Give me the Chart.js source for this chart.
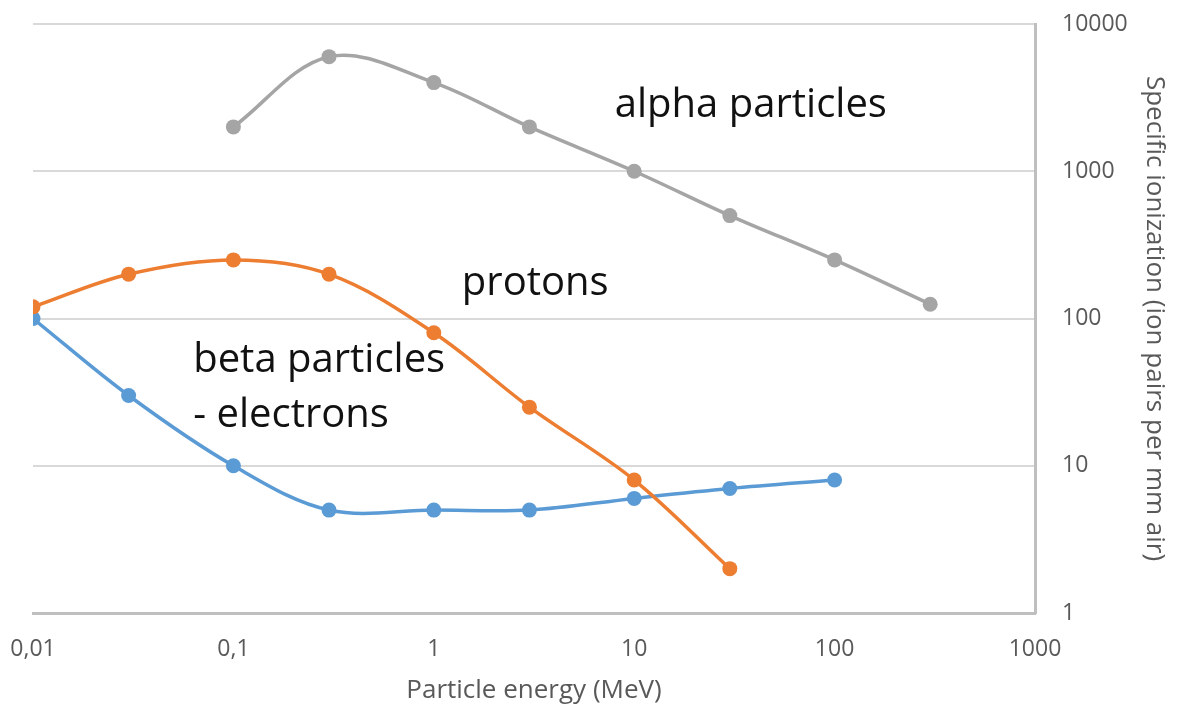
<!DOCTYPE html>
<html>
<head>
<meta charset="utf-8">
<script src="https://cdn.jsdelivr.net/npm/chart.js@4.4.1/dist/chart.umd.min.js"></script>
<style>
	html, body { margin: 0; padding: 0; background: #fff; }
	#wrap { width: 1181px; height: 706px; position: relative; }
</style>
</head>
<body>
<div id="wrap"><canvas id="chart" width="1181" height="706"></canvas></div>
<script>
(function () {
	'use strict';

	// Particle energy (MeV) per point, and ionization values.
	var ENERGY_ALPHA = [0.1, 0.3, 1, 3, 10, 30, 100, 300];
	var ALPHA = [2000, 6000, 4000, 2000, 1000, 500, 250, 125];

	var ENERGY_PROTON = [0.01, 0.03, 0.1, 0.3, 1, 3, 10, 30];
	var PROTONS = [120, 200, 250, 200, 80, 25, 8, 2];

	var ENERGY_BETA = [0.01, 0.03, 0.1, 0.3, 1, 3, 10, 30, 100];
	var BETA = [100, 30, 10, 5, 5, 5, 6, 7, 8];

	var X_TICKS = [0.01, 0.1, 1, 10, 100, 1000];
	var Y_TICKS = [1, 10, 100, 1000, 10000];

	// Curve names written inside the plot, anchored in data space.
	var LABEL_TEXT = ['alpha particles', 'protons', 'beta particles', '- electrons'];
	var LABEL_X = [8, 1.38, 0.063, 0.063];
	var LABEL_Y = [2800, 173, 52, 22];

	var COLORS = { alpha: '#A5A5A5', proton: '#ED7D31', beta: '#5B9BD5' };
	var FONT = '"Open Sans", "Liberation Sans", sans-serif';

	function pairs(xs, ys) {
		return xs.map(function (x, i) { return { x: x, y: ys[i] }; });
	}

	function series(label, xs, ys, color) {
		return {
			label: label,
			data: pairs(xs, ys),
			borderColor: color,
			backgroundColor: color,
			borderWidth: 3.5,
			pointRadius: 7.5,
			pointHoverRadius: 7.5,
			pointBorderWidth: 0,
			tension: 0.35,
			fill: false
		};
	}

	var curveLabels = {
		id: 'curveLabels',
		afterDatasetsDraw: function (chart) {
			var ctx = chart.ctx;
			var xs = chart.scales.x, ys = chart.scales.y;
			ctx.save();
			ctx.fillStyle = '#111';
			ctx.font = '40px ' + FONT;
			ctx.textAlign = 'left';
			ctx.textBaseline = 'middle';
			LABEL_TEXT.forEach(function (t, i) {
				ctx.fillText(t, xs.getPixelForValue(LABEL_X[i]), ys.getPixelForValue(LABEL_Y[i]));
			});
			ctx.restore();
		}
	};

	function fmt(v) {
		return String(v).replace('.', ',');
	}

	new Chart(document.getElementById('chart'), {
		type: 'line',
		data: {
			datasets: [
				series('alpha particles', ENERGY_ALPHA, ALPHA, COLORS.alpha),
				series('protons', ENERGY_PROTON, PROTONS, COLORS.proton),
				series('beta particles - electrons', ENERGY_BETA, BETA, COLORS.beta)
			]
		},
		options: {
			responsive: false,
			animation: false,
			layout: { padding: { left: 33, top: 24, right: 0, bottom: 0 } },
			plugins: { legend: { display: false }, tooltip: { enabled: false } },
			scales: {
				x: {
					type: 'logarithmic',
					min: 0.01,
					max: 1000,
					afterBuildTicks: function (s) { s.ticks = X_TICKS.map(function (v) { return { value: v }; }); },
					afterFit: function (s) { s.height = 93; s.paddingLeft = 0; s.paddingRight = 0; },
					grid: { display: false, drawTicks: false },
					border: { display: true, color: '#BFBFBF', width: 3 },
					ticks: {
						padding: 23,
						maxRotation: 0,
						color: '#595959',
						font: { family: FONT, size: 23 },
						callback: function (v) { return fmt(v); }
					},
					title: {
						display: true,
						text: 'Particle energy (MeV)',
						color: '#595959',
						font: { family: FONT, size: 26 },
						padding: { top: 4, bottom: 0 }
					}
				},
				y: {
					type: 'logarithmic',
					position: 'right',
					min: 1,
					max: 10000,
					afterBuildTicks: function (s) { s.ticks = Y_TICKS.map(function (v) { return { value: v }; }); },
					afterFit: function (s) { s.width = 146; s.paddingTop = 0; s.paddingBottom = 0; },
					grid: { color: '#D9D9D9', lineWidth: 2, drawTicks: false },
					border: { display: true, color: '#BFBFBF', width: 3 },
					ticks: {
						padding: 27,
						color: '#595959',
						font: { family: FONT, size: 23 },
						callback: function (v) { return String(v); }
					},
					title: {
						display: true,
						text: 'Specific ionization (ion pairs per mm air)',
						color: '#595959',
						font: { family: FONT, size: 26 },
						padding: { top: 11, bottom: 0 }
					}
				}
			}
		},
		plugins: [curveLabels]
	});
})();
</script>
</body>
</html>
